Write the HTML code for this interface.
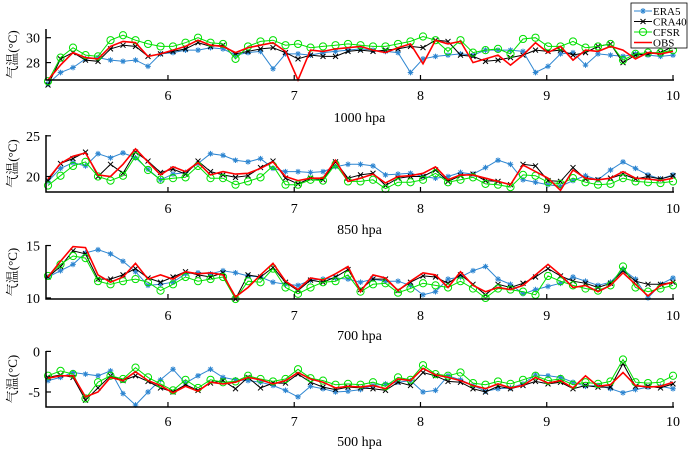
<!DOCTYPE html>
<html><head><meta charset="utf-8">
<style>
html,body{margin:0;padding:0;background:#fff;}
svg{display:block;font-family:"Liberation Serif","Noto Serif CJK SC",serif;}
</style></head>
<body>
<svg id="chart" width="689" height="452" viewBox="0 0 689 452" xmlns="http://www.w3.org/2000/svg"></svg>
<script>
// ---- data ----
const seriesNames = ["ERA5","CRA40","CFSR","OBS"];
const panelTitles = ["1000 hpa","850 hpa","700 hpa","500 hpa"];
const xTicks = [6,7,8,9,10];
const yTicks1000 = [28,30];
const yTicks850 = [20,25];
const yTicks700 = [10,15];
const yTicks500 = [-5,0];
const yTickLabels500 = ["-5","0"];
const nPoints = 51;

const era1000 = [26.3,27.2,27.6,28.3,28.4,28.2,28.1,28.2,27.7,28.7,28.8,29.0,29.0,29.2,29.1,28.6,28.8,28.9,27.5,28.7,28.7,28.6,28.8,28.9,29.0,29.1,29.0,28.9,28.8,27.2,28.3,28.5,28.6,28.7,28.6,29.0,29.0,29.0,28.9,27.2,27.7,28.7,28.8,27.8,28.7,28.6,28.5,28.7,28.6,28.5,28.6];
const cra1000 = [26.2,28.3,28.8,28.2,28.1,29.1,29.4,29.3,28.5,28.7,28.9,29.1,29.6,29.3,29.4,28.7,28.9,29.1,29.2,28.8,28.3,28.6,28.5,28.5,28.9,29.0,28.9,29.0,29.1,29.3,29.2,29.8,29.7,28.6,28.5,28.1,28.2,28.4,28.6,29.0,28.9,29.0,28.6,28.8,29.3,29.5,28.0,28.6,28.7,28.8,29.3];
const cfsr1000 = [26.5,28.4,29.2,28.6,28.5,29.8,30.2,29.8,29.5,29.3,29.3,29.6,30.0,29.6,29.5,28.3,29.3,29.7,29.8,29.4,29.5,29.2,29.3,29.4,29.5,29.4,29.3,29.3,29.5,29.7,30.1,29.8,28.9,29.8,28.8,29.0,29.1,28.7,29.9,30.0,29.3,29.3,29.7,29.2,29.3,29.5,28.2,28.7,28.8,28.8,29.0];
const obs1000 = [26.6,27.8,28.8,28.4,28.3,29.3,29.7,29.6,28.5,28.7,29.0,29.3,29.8,29.4,29.3,28.8,29.2,29.4,29.6,28.9,26.6,29.0,28.9,29.1,29.2,29.3,29.0,28.8,29.2,29.5,27.9,29.8,29.5,29.7,28.0,28.3,28.6,27.8,28.6,29.6,28.8,29.3,28.2,29.0,28.9,29.3,29.0,28.3,28.8,28.7,28.9];

const era850 = [19.4,21.0,21.7,21.3,22.8,22.3,22.9,22.3,20.9,19.6,20.3,20.5,21.6,22.8,22.6,22.0,21.8,22.2,21.0,20.6,20.6,20.5,20.6,21.2,21.5,21.5,21.3,20.2,20.3,20.4,20.0,19.8,20.0,20.5,20.3,21.1,22.0,21.5,19.6,19.3,19.0,18.8,19.5,20.1,19.6,20.8,21.8,21.0,20.2,19.7,20.2];
const cra850 = [19.5,21.6,22.2,23.0,20.0,21.5,20.4,23.0,21.9,20.5,20.9,20.3,21.9,20.6,20.2,19.9,20.1,21.1,21.9,19.8,19.1,19.8,19.6,21.8,19.8,20.2,20.4,18.9,19.8,20.0,20.0,20.8,19.4,20.1,20.3,19.5,19.4,19.0,21.5,21.3,19.5,19.4,21.1,19.7,19.6,19.8,20.3,19.7,20.0,19.7,20.1];
const cfsr850 = [18.9,20.1,21.3,21.8,20.0,19.5,20.1,22.5,20.8,19.6,19.8,19.9,21.3,19.8,19.8,19.0,19.4,19.9,21.3,19.0,19.0,19.6,19.5,21.5,19.4,19.4,19.6,18.5,19.3,19.3,19.6,20.4,19.3,19.6,19.9,19.1,19.0,18.7,20.2,20.1,19.3,19.1,19.8,19.3,19.0,19.1,19.8,19.4,19.3,19.2,19.4];
const obs850 = [19.7,21.6,22.5,22.9,20.2,20.0,21.5,23.4,21.8,20.2,21.2,20.6,21.7,20.2,20.6,20.3,20.4,21.0,21.8,20.0,19.5,19.8,19.8,22.0,19.4,19.8,20.3,19.2,20.0,20.1,20.4,21.2,19.6,20.2,20.2,19.8,19.4,19.0,21.4,20.6,19.8,18.3,20.8,19.8,19.6,19.8,20.6,19.8,19.7,19.5,19.8];

const era700 = [12.0,12.6,13.2,14.3,14.6,14.2,13.5,12.5,11.2,11.3,11.5,12.3,12.4,12.3,12.6,12.4,12.1,12.0,11.5,11.3,11.2,11.7,11.8,11.9,11.8,11.5,11.8,11.6,11.6,11.2,10.3,10.6,11.8,12.0,12.6,13.0,11.8,11.3,10.4,10.8,11.1,11.4,12.0,11.6,11.2,11.5,12.7,11.8,10.0,11.3,11.9];
const cra700 = [12.0,13.0,14.5,14.2,11.8,11.8,12.2,12.8,11.9,11.5,12.0,12.5,12.2,12.0,12.4,9.9,12.2,12.0,12.9,11.5,10.7,11.7,11.5,12.0,12.7,10.8,11.8,11.8,10.7,11.5,12.1,12.0,11.4,12.2,11.3,10.3,11.3,11.0,11.4,12.0,12.8,12.1,11.6,11.4,11.0,11.4,12.6,11.6,11.3,11.3,11.5];
const cfsr700 = [12.1,13.2,14.0,13.8,11.6,11.3,11.6,11.8,11.5,10.7,11.3,12.0,11.6,11.8,12.0,9.9,11.6,11.5,12.8,11.0,10.4,11.0,11.5,11.6,12.2,10.6,11.3,11.4,10.5,10.9,11.4,11.2,11.0,11.6,10.9,10.0,10.9,10.8,10.6,10.3,12.1,11.6,11.2,10.9,10.7,11.2,13.0,11.0,10.6,10.9,11.2];
const obs700 = [12.0,13.5,14.9,14.8,12.2,11.5,12.0,13.3,11.8,12.2,11.8,12.5,12.3,12.4,12.2,10.1,11.0,12.2,13.3,11.6,10.8,11.9,11.7,12.3,13.0,10.6,12.2,11.9,10.7,11.6,12.4,12.2,11.0,12.5,11.2,10.6,11.0,10.8,11.2,12.2,13.2,12.2,11.0,11.2,10.6,11.2,12.4,11.3,10.2,11.2,11.5];

const era500 = [-3.6,-3.2,-2.6,-2.8,-3.0,-2.4,-5.2,-6.6,-5.0,-3.5,-2.2,-3.9,-3.0,-2.2,-3.2,-3.5,-3.6,-3.8,-4.2,-4.8,-5.6,-4.3,-4.6,-5.0,-4.9,-4.7,-4.2,-4.0,-3.8,-3.6,-5.0,-4.8,-3.0,-3.5,-4.2,-4.9,-4.6,-4.5,-4.0,-2.9,-3.0,-3.2,-3.8,-4.3,-4.2,-4.6,-5.1,-4.7,-4.4,-4.3,-4.6];
const cra500 = [-3.2,-2.9,-3.2,-6.0,-4.5,-3.0,-3.6,-3.0,-3.7,-4.5,-5.0,-4.1,-4.8,-3.9,-3.6,-4.6,-3.2,-4.5,-3.9,-3.9,-2.8,-3.8,-4.4,-4.7,-4.4,-4.5,-4.6,-4.8,-3.8,-4.2,-2.6,-3.0,-3.7,-3.8,-4.6,-5.0,-4.3,-4.6,-4.2,-3.7,-4.0,-3.8,-4.6,-4.2,-4.4,-4.4,-1.5,-4.3,-4.3,-4.5,-4.0];
const cfsr500 = [-3.0,-2.4,-2.8,-5.8,-3.8,-3.0,-3.4,-2.0,-3.2,-4.0,-4.8,-3.5,-4.5,-3.5,-3.8,-3.7,-3.0,-3.4,-3.7,-3.4,-2.2,-3.3,-3.6,-4.1,-4.0,-4.1,-3.8,-4.3,-3.2,-3.5,-1.7,-2.8,-3.0,-2.6,-3.9,-4.1,-3.7,-4.0,-3.5,-3.0,-3.6,-3.4,-4.1,-3.8,-4.0,-3.7,-1.0,-3.8,-3.9,-3.8,-3.0];
const obs500 = [-3.3,-3.0,-3.0,-5.6,-5.0,-3.2,-3.6,-2.5,-3.6,-4.2,-5.1,-4.3,-4.9,-3.8,-4.0,-3.8,-3.2,-3.5,-4.0,-3.6,-2.6,-3.4,-3.8,-4.5,-4.3,-4.4,-4.2,-4.6,-3.4,-3.6,-2.1,-2.9,-3.2,-3.6,-4.2,-4.6,-4.0,-4.5,-4.2,-3.2,-3.9,-3.6,-4.5,-3.0,-4.3,-4.1,-2.6,-4.2,-4.4,-4.3,-3.8];

// ---- layout ----
const NS = "http://www.w3.org/2000/svg";
const svg = document.getElementById("chart");
const X0 = 46, X1 = 673, XMIN = 5.034, XMAX = 10;
const days = [];
for (let i = 0; i < nPoints; i++) days.push(5.05 + i * (4.95 / (nPoints - 1)));
function xScale(v){ return X0 + (v - XMIN) / (XMAX - XMIN) * (X1 - X0); }

const panels = [
  {top:29, bot:80, ymin:26.6, ymax:30.7, ticks:yTicks1000, labels:null, data:[era1000,cra1000,cfsr1000,obs1000], tickY:100, titleY:122},
  {top:135, bot:192, ymin:18.1, ymax:25.1, ticks:yTicks850, labels:null, data:[era850,cra850,cfsr850,obs850], tickY:213, titleY:234},
  {top:245, bot:299, ymin:9.9, ymax:15.05, ticks:yTicks700, labels:null, data:[era700,cra700,cfsr700,obs700], tickY:320, titleY:340},
  {top:351, bot:407, ymin:-6.85, ymax:0.05, ticks:yTicks500, labels:yTickLabels500, data:[era500,cra500,cfsr500,obs500], tickY:426, titleY:446}
];
const colors = ["#2e86d1","#000000","#00e000","#ff0000"];

function mk(tag, attrs, parent){
  const e = document.createElementNS(NS, tag);
  for (const k in attrs) e.setAttribute(k, attrs[k]);
  (parent || svg).appendChild(e);
  return e;
}

panels.forEach((p, pi) => {
  const g = mk("g", {});
  
  
  const yScale = v => p.bot - (v - p.ymin) / (p.ymax - p.ymin) * (p.bot - p.top);

  // series
  p.data.forEach((vals, si) => {
    const sg = mk("g", {}, g);
    
    
    const pts = vals.map((v, i) => xScale(days[i]).toFixed(1) + "," + yScale(v).toFixed(1)).join(" ");
    const line = mk("polyline", {points: pts, fill: "none", stroke: colors[si], "stroke-width": si === 3 ? 1.6 : 1}, sg);
    
    
    vals.forEach((v, i) => {
      const cx = xScale(days[i]), cy = yScale(v);
      if (si === 0) {
        const s = 2.8;
        const m = mk("path", {d:`M${cx-s},${cy}H${cx+s}M${cx},${cy-s}V${cy+s}M${cx-2},${cy-2}L${cx+2},${cy+2}M${cx-2},${cy+2}L${cx+2},${cy-2}`, stroke: colors[0], "stroke-width": 1}, sg);
        
        
      } else if (si === 1) {
        const s = 2.5;
        const m = mk("path", {d:`M${cx-s},${cy-s}L${cx+s},${cy+s}M${cx-s},${cy+s}L${cx+s},${cy-s}`, stroke: "#000", "stroke-width": 1}, sg);
        
        
      } else if (si === 2) {
        const m = mk("circle", {cx: cx, cy: cy, r: 3.6, fill: "none", stroke: colors[2], "stroke-width": 1}, sg);
        
        
      }
    });
  });

  // axes
  const ax = mk("path", {d:`M${X0},${p.top}V${p.bot}H${X1+1}`, fill:"none", stroke:"#000", "stroke-width":1.5}, g);
  
  
  xTicks.forEach(t => {
    const x = xScale(t);
    mk("line", {x1:x, x2:x, y1:p.bot, y2:p.bot-5, stroke:"#000", "stroke-width":1.2}, g);
    const tx = mk("text", {x:x, y:p.tickY, "text-anchor":"middle", "font-size":14}, g);
    tx.textContent = t;
    
    
  });
  p.ticks.forEach((t, ti) => {
    const y = yScale(t);
    mk("line", {x1:X0, x2:X0+5, y1:y, y2:y, stroke:"#000", "stroke-width":1.2}, g);
    const ty = mk("text", {x:X0-6, y:y+5, "text-anchor":"end", "font-size":14}, g);
    ty.textContent = p.labels ? p.labels[ti] : t;
    
    
  });
  const cy = (p.top + p.bot) / 2;
  const yl = mk("text", {x:0, y:0, "text-anchor":"middle", "font-size":13, transform:`translate(17,${cy}) rotate(-90)`}, g);
  yl.textContent = "气温(°C)";
  
  
  const tt = mk("text", {x:(X0+X1)/2, y:p.titleY, "text-anchor":"middle", "font-size":14}, g);
  tt.textContent = panelTitles[pi];
  
  
});

// legend
const lg = mk("g", {});


mk("rect", {x:631, y:3, width:56, height:45, fill:"#fff", stroke:"#000", "stroke-width":0.8}, lg);
seriesNames.forEach((n, i) => {
  const y = 11 + i * 10.5;
  const e = mk("g", {}, lg);
  
  
  mk("line", {x1:634, x2:652, y1:y, y2:y, stroke:colors[i], "stroke-width": i===3?1.6:1}, e);
  const cx = 643;
  if (i === 0) mk("path", {d:`M${cx-3},${y}H${cx+3}M${cx},${y-3}V${y+3}M${cx-2},${y-2}L${cx+2},${y+2}M${cx-2},${y+2}L${cx+2},${y-2}`, stroke:colors[0]}, e);
  if (i === 1) mk("path", {d:`M${cx-2.5},${y-2.5}L${cx+2.5},${y+2.5}M${cx-2.5},${y+2.5}L${cx+2.5},${y-2.5}`, stroke:"#000"}, e);
  if (i === 2) mk("circle", {cx:cx, cy:y, r:3.6, fill:"none", stroke:colors[2]}, e);
  const t = mk("text", {x:653, y:y+4, "font-size":11}, e);
  t.textContent = n;
});
</script>
</body></html>
